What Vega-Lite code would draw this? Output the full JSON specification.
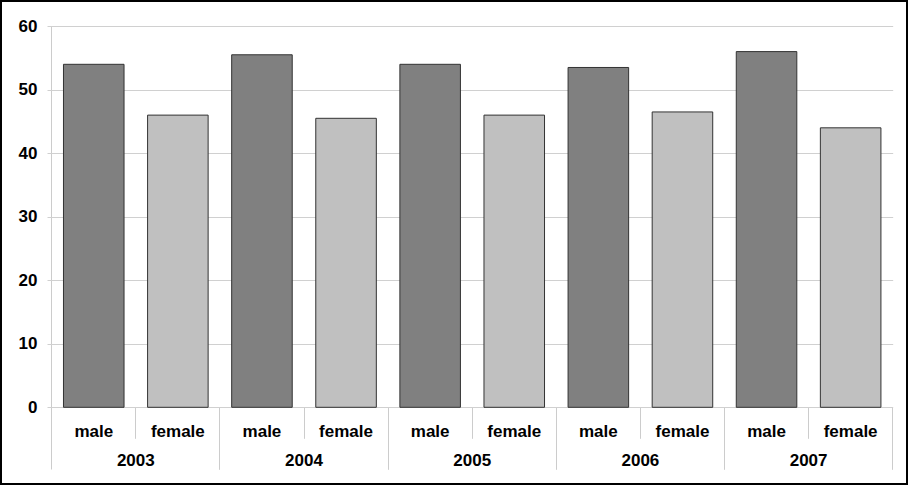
{
  "$schema": "https://vega.github.io/schema/vega-lite/v6.json",
  "width": 906,
  "height": 483,
  "autosize": {"type": "none"},
  "padding": {"left": 1, "top": 1, "right": 2, "bottom": 3},
  "background": "white",
  "config": {
    "view": {"stroke": "#000000", "strokeWidth": 2},
    "font": "Liberation Sans",
    "axis": {
      "labelFont": "Liberation Sans",
      "labelFontSize": 17,
      "labelFontWeight": "bold",
      "labelColor": "#000000",
      "title": null,
      "grid": false,
      "labelOverlap": false,
      "labelAngle": 0,
      "tickColor": "#cccccc",
      "tickWidth": 1
    }
  },
  "data": {
    "values": [
      {"key": "2003 male", "year": "2003", "gender": "male", "value": 54},
      {"key": "2003 female", "year": "2003", "gender": "female", "value": 46},
      {"key": "2004 male", "year": "2004", "gender": "male", "value": 55.5},
      {"key": "2004 female", "year": "2004", "gender": "female", "value": 45.5},
      {"key": "2005 male", "year": "2005", "gender": "male", "value": 54},
      {"key": "2005 female", "year": "2005", "gender": "female", "value": 46},
      {"key": "2006 male", "year": "2006", "gender": "male", "value": 53.5},
      {"key": "2006 female", "year": "2006", "gender": "female", "value": 46.5},
      {"key": "2007 male", "year": "2007", "gender": "male", "value": 56},
      {"key": "2007 female", "year": "2007", "gender": "female", "value": 44}
    ]
  },
  "layer": [
    {
      "mark": {"type": "bar", "width": {"band": 0.72}, "stroke": "#333333", "strokeWidth": 1},
      "encoding": {
        "x": {
          "field": "key", "type": "nominal", "sort": null,
          "scale": {"paddingInner": 0, "paddingOuter": 0.3865, "align": 0.78},
          "axis": {
            "orient": "bottom", "offset": -76.7, "ticks": false, "domain": false,
            "labelExpr": "split(datum.value, ' ')[1]",
            "labelBaseline": "alphabetic", "labelPadding": 28.7
          }
        },
        "y": {
          "field": "value", "type": "quantitative",
          "scale": {"domain": [-12.075, 63.967], "nice": false, "zero": false},
          "axis": {
            "orient": "left", "offset": -50.7, "values": [0, 10, 20, 30, 40, 50, 60],
            "ticks": false, "domain": false, "labelPadding": 14.7
          }
        },
        "y2": {"datum": 0},
        "color": {
          "field": "gender", "type": "nominal",
          "scale": {"domain": ["male", "female"], "range": ["#808080", "#c0c0c0"]},
          "legend": null
        }
      }
    },
    {
      "mark": {"type": "bar", "opacity": 0},
      "encoding": {
        "x": {
          "field": "key", "type": "nominal", "sort": null,
          "axis": {
            "orient": "bottom", "offset": -76.7,
            "values": ["2003 female", "2004 female", "2005 female", "2006 female", "2007 female"],
            "bandPosition": 0, "labels": false, "domain": false, "tickSize": 31
          }
        },
        "y": {
          "field": "value", "type": "quantitative",
          "scale": {"domain": [-12.075, 63.967], "nice": false, "zero": false},
          "axis": {
            "orient": "right", "offset": -860, "values": [0, 10, 20, 30, 40, 50, 60],
            "labels": false, "domain": false, "tickSize": 845.7, "tickColor": "#d0d0d0"
          }
        },
        "y2": {"datum": 0}
      }
    },
    {
      "mark": {"type": "bar", "opacity": 0},
      "encoding": {
        "x": {
          "field": "key", "type": "nominal", "sort": null,
          "axis": {
            "orient": "bottom", "offset": -76.7,
            "values": ["2003 male", "2004 male", "2005 male", "2006 male", "2007 male"],
            "ticks": false, "domain": false,
            "labelExpr": "split(datum.value, ' ')[0]",
            "labelOffset": 42.05,
            "labelBaseline": "alphabetic", "labelPadding": 58.4
          }
        },
        "y": {
          "field": "value", "type": "quantitative",
          "scale": {"domain": [-12.075, 63.967], "nice": false, "zero": false},
          "axis": null
        },
        "y2": {"datum": 0}
      }
    },
    {
      "mark": {"type": "bar", "opacity": 0},
      "encoding": {
        "x": {
          "field": "key", "type": "nominal", "sort": null,
          "axis": {
            "orient": "bottom", "offset": -457.8,
            "values": ["2003 male"], "bandPosition": 0,
            "labels": false, "domain": false, "tickSize": 442.8
          }
        },
        "y": {
          "field": "value", "type": "quantitative",
          "scale": {"domain": [-12.075, 63.967], "nice": false, "zero": false},
          "axis": null
        },
        "y2": {"datum": 0}
      }
    },
    {
      "mark": {"type": "bar", "opacity": 0},
      "encoding": {
        "x": {
          "field": "key", "type": "nominal", "sort": null,
          "axis": {
            "orient": "bottom", "offset": -76.7,
            "values": ["2004 male", "2005 male", "2006 male", "2007 male"], "bandPosition": 0,
            "labels": false, "domain": false, "tickSize": 62
          }
        },
        "y": {
          "field": "value", "type": "quantitative",
          "scale": {"domain": [-12.075, 63.967], "nice": false, "zero": false},
          "axis": null
        },
        "y2": {"datum": 0}
      }
    },
    {
      "mark": {"type": "bar", "opacity": 0},
      "encoding": {
        "x": {
          "field": "key", "type": "nominal", "sort": null,
          "axis": {
            "orient": "bottom", "offset": -76.7,
            "values": ["2007 female"], "bandPosition": 1,
            "labels": false, "domain": false, "tickSize": 62
          }
        },
        "y": {
          "field": "value", "type": "quantitative",
          "scale": {"domain": [-12.075, 63.967], "nice": false, "zero": false},
          "axis": null
        },
        "y2": {"datum": 0}
      }
    }
  ],
  "resolve": {"axis": {"x": "independent", "y": "independent"}}
}
